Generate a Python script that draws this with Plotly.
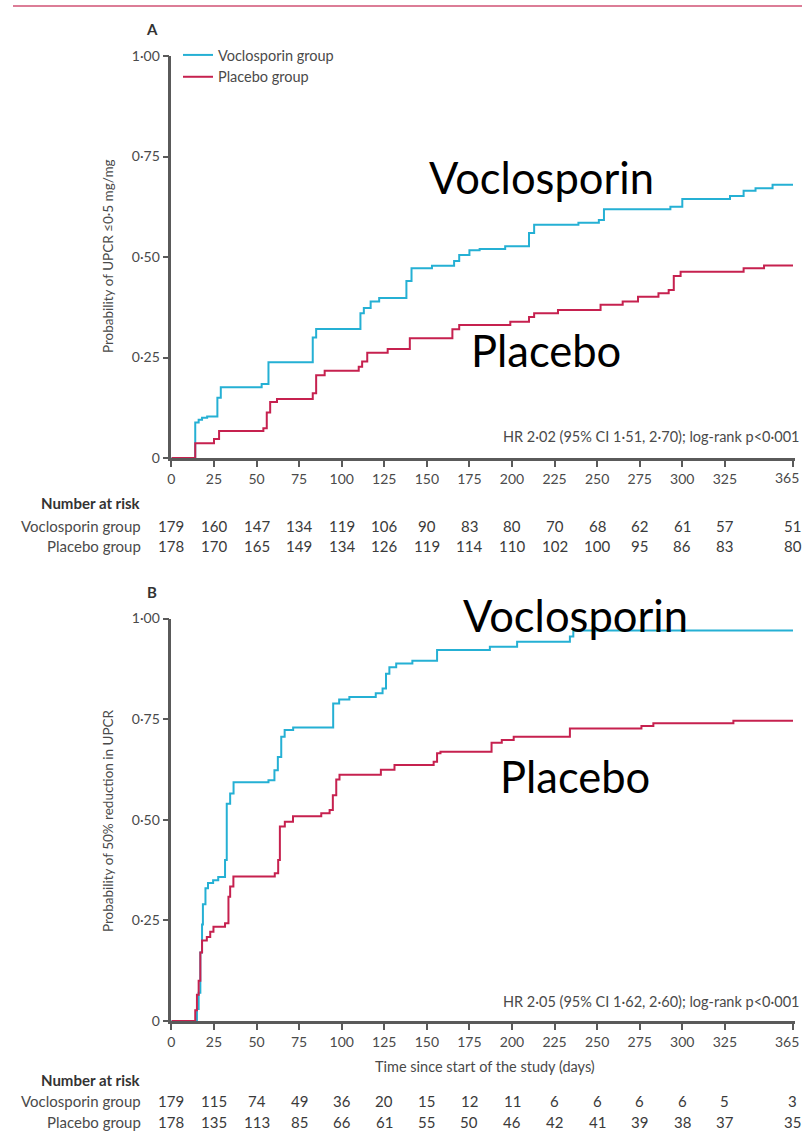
import plotly.graph_objects as go

W, H = 802, 1143

# ---------------- data ----------------
day_ticks = [0, 25, 50, 75, 100, 125, 150, 175, 200, 225, 250, 275, 300, 325, 365]
day_tick_text = ["0", "25", "50", "75", "100", "125", "150", "175", "200", "225", "250",
                 "275", "300", "325", ""]
last_tick_text = "365"
y_tick_vals = [0, 0.25, 0.5, 0.75, 1.0]
y_tick_text = ["0", "0·25", "0·50", "0·75", "1·00"]

# Panel A: probability of UPCR <= 0.5 mg/mg
a_voc_days = [0, 14, 16, 18, 21, 27, 29, 53, 57, 83, 85, 111, 113, 117, 122, 138, 141, 153,
              166, 169, 175, 181, 196, 210, 213, 239, 251, 254, 293, 300, 328, 336, 343, 353, 365]
a_voc_vals = [0, 0.088, 0.095, 0.100, 0.103, 0.150, 0.176, 0.184, 0.238, 0.300, 0.321, 0.360,
              0.373, 0.389, 0.398, 0.440, 0.472, 0.478, 0.490, 0.505, 0.517, 0.520, 0.527, 0.560,
              0.580, 0.585, 0.592, 0.619, 0.625, 0.644, 0.652, 0.665, 0.671, 0.680, 0.680]
a_pla_days = [0, 14, 25, 28, 54, 56, 58, 62, 83, 85, 90, 110, 112, 115, 127, 140, 165, 169,
              199, 210, 213, 227, 252, 265, 274, 286, 292, 295, 299, 336, 348, 365]
a_pla_vals = [0, 0.037, 0.047, 0.067, 0.074, 0.113, 0.139, 0.147, 0.161, 0.206, 0.217, 0.227,
              0.240, 0.262, 0.271, 0.298, 0.320, 0.331, 0.339, 0.351, 0.360, 0.368, 0.381, 0.389,
              0.401, 0.410, 0.418, 0.453, 0.463, 0.472, 0.479, 0.479]

# Panel B: probability of 50% reduction in UPCR
b_voc_days = [0, 15, 16, 17, 18, 18.5, 20, 21.5, 24.5, 27.5, 31.5, 32.5, 34.5, 36.5, 57, 60.5,
              62.5, 64.5, 66.5, 71.5, 95, 98.5, 104.5, 120, 124, 126, 128, 132, 141.5, 156, 187,
              203, 234, 236, 365]
b_voc_vals = [0, 0.03, 0.07, 0.17, 0.24, 0.29, 0.33, 0.343, 0.35, 0.358, 0.40, 0.54, 0.565,
              0.593, 0.598, 0.623, 0.656, 0.706, 0.723, 0.729, 0.789, 0.799, 0.805, 0.814, 0.826,
              0.863, 0.879, 0.888, 0.895, 0.922, 0.930, 0.942, 0.955, 0.970, 0.970]
b_pla_days = [0, 14, 15, 16, 17, 18, 20.8, 22.8, 24.7, 31.5, 33.5, 34.5, 36.4, 60.7, 62.7,
              63.7, 66.6, 71.4, 88, 92.9, 94.8, 96.8, 98.7, 123, 131, 154, 156, 158, 188, 194,
              201, 234, 276, 283, 330, 365]
b_pla_vals = [0, 0.027, 0.065, 0.10, 0.17, 0.20, 0.209, 0.222, 0.234, 0.243, 0.309, 0.334,
              0.359, 0.367, 0.40, 0.483, 0.495, 0.509, 0.516, 0.524, 0.561, 0.600, 0.612, 0.624,
              0.636, 0.644, 0.665, 0.669, 0.691, 0.698, 0.706, 0.727, 0.733, 0.740, 0.746, 0.746]

# Numbers at risk
risk_a_voc = [179, 160, 147, 134, 119, 106, 90, 83, 80, 70, 68, 62, 61, 57, 51]
risk_a_pla = [178, 170, 165, 149, 134, 126, 119, 114, 110, 102, 100, 95, 86, 83, 80]
risk_b_voc = [179, 115, 74, 49, 36, 20, 15, 12, 11, 6, 6, 6, 6, 5, 3]
risk_b_pla = [178, 135, 113, 85, 66, 61, 55, 50, 46, 42, 41, 39, 38, 37, 35]

# ---------------- style ----------------
CYAN = "#25b0d4"
RED = "#c6214f"
AXC = "#5a5a5a"
TXT = "#4a4a4a"
SMALL = "Lato, 'Open Sans', sans-serif"


def px(p):
    return p / W


def py(p):
    return 1 - p / H


fig = go.Figure()
fig.add_trace(go.Scatter(x=a_voc_days, y=a_voc_vals, mode="lines", name="Voclosporin group",
                         line=dict(shape="hv", color=CYAN, width=2), xaxis="x", yaxis="y",
                         cliponaxis=False))
fig.add_trace(go.Scatter(x=a_pla_days, y=a_pla_vals, mode="lines", name="Placebo group",
                         line=dict(shape="hv", color=RED, width=2), xaxis="x", yaxis="y",
                         cliponaxis=False))
fig.add_trace(go.Scatter(x=b_voc_days, y=b_voc_vals, mode="lines", name="Voclosporin group",
                         line=dict(shape="hv", color=CYAN, width=2), xaxis="x2", yaxis="y2",
                         showlegend=False, cliponaxis=False))
fig.add_trace(go.Scatter(x=b_pla_days, y=b_pla_vals, mode="lines", name="Placebo group",
                         line=dict(shape="hv", color=RED, width=2), xaxis="x2", yaxis="y2",
                         showlegend=False, cliponaxis=False))

X0, XS = 171.4, 1.703   # pixel of day 0, pixels per day
x_dom = [px(X0), px(X0 + 366 * XS)]
xax = dict(range=[0, 366], tickvals=day_ticks, ticktext=day_tick_text,
           showline=True, linecolor=AXC, linewidth=2.5, ticks="outside", ticklen=6,
           tickwidth=2, tickcolor=AXC, showgrid=False, zeroline=False, automargin=False,
           ticklabeloverflow="allow",
           tickfont=dict(family=SMALL, size=14, color=TXT), fixedrange=True)
yax = dict(range=[0, 1], tickvals=y_tick_vals, ticktext=y_tick_text,
           showline=True, linecolor=AXC, linewidth=2.5, ticks="outside", ticklen=6,
           tickwidth=2, tickcolor=AXC, showgrid=False, zeroline=False, automargin=False,
           tickfont=dict(family=SMALL, size=14, color=TXT), fixedrange=True)

fig.update_layout(
    template="none",
    width=W, height=H, margin=dict(l=0, r=0, t=0, b=0, pad=0), autosize=False,
    paper_bgcolor="white", plot_bgcolor="white",
    xaxis=dict(xax, domain=x_dom, anchor="y"),
    yaxis=dict(yax, domain=[py(458), py(56)], anchor="x"),
    xaxis2=dict(xax, domain=x_dom, anchor="y2"),
    yaxis2=dict(yax, domain=[py(1021), py(618.5)], anchor="x2"),
    legend=dict(x=px(178), y=py(39), xanchor="left", yanchor="top",
                font=dict(family=SMALL, size=14.5, color=TXT), bgcolor="rgba(0,0,0,0)",
                itemwidth=30, tracegroupgap=0, borderwidth=0),
    showlegend=True,
)

ann = []


def text(x, y, s, size=15, color=TXT, xanchor="center", bold=False, family=SMALL,
         angle=0, xref="paper"):
    ann.append(dict(x=x, y=y, xref=xref, yref="paper", text=("<b>%s</b>" % s) if bold else s,
                    showarrow=False, xanchor=xanchor, yanchor="middle", textangle=angle,
                    font=dict(family=family, size=size, color=color)))


# panel letters
text(px(152), py(29), "A", size=15, color="#333", bold=True)
text(px(152), py(592), "B", size=15, color="#333", bold=True)

# last x tick label, kept inside the page
text(px(801), py(478), last_tick_text, size=14, xanchor="right")
text(px(801), py(1041), last_tick_text, size=14, xanchor="right")

# y axis titles
text(px(108), py(256), "Probability of UPCR ≤0·5 mg/mg", size=13.5, angle=-90)
text(px(108), py(821), "Probability of 50% reduction in UPCR", size=13.5, angle=-90)

# x axis title (panel B)
text(px(485), py(1066), "Time since start of the study (days)", size=14.5)

# HR text
text(px(801), py(436), "HR 2·02 (95% CI 1·51, 2·70); log-rank p<0·001", size=14.5, xanchor="right")
text(px(801), py(1001), "HR 2·05 (95% CI 1·62, 2·60); log-rank p<0·001", size=14.5, xanchor="right")

# big labels
BIG = "Lato, Carlito, Calibri, sans-serif"
text(px(541), py(177), "Voclosporin", size=43.5, color="#000", family=BIG)
text(px(546), py(350), "Placebo", size=43.5, color="#000", family=BIG)
text(px(575), py(615), "Voclosporin", size=43.5, color="#000", family=BIG)
text(px(575), py(776), "Placebo", size=43.5, color="#000", family=BIG)

# number at risk tables
for xr, ys, rows in (("x", (503, 526, 546), (risk_a_voc, risk_a_pla)),
                     ("x2", (1080, 1101, 1122), (risk_b_voc, risk_b_pla))):
    text(px(143), py(ys[0]), "Number at risk", size=15, color="#333", xanchor="right", bold=True)
    text(px(143), py(ys[1]), "Voclosporin group", size=15, xanchor="right")
    text(px(143), py(ys[2]), "Placebo group", size=15, xanchor="right")
    for vals, yy in zip(rows, ys[1:]):
        for d, v in zip(day_ticks, vals):
            text(d, py(yy), str(v), size=15, color="#3a3a3a", xref=xr)

fig.update_layout(annotations=ann)

# top pink rule
fig.add_shape(type="line", xref="paper", yref="paper", x0=px(13), x1=1, y0=py(6), y1=py(6),
              line=dict(color="#dc7d97", width=2))

fig.write_html("out.html", config=dict(displayModeBar=False),
               post_script="document.body.style.margin='0px';document.body.style.overflow='hidden';")
